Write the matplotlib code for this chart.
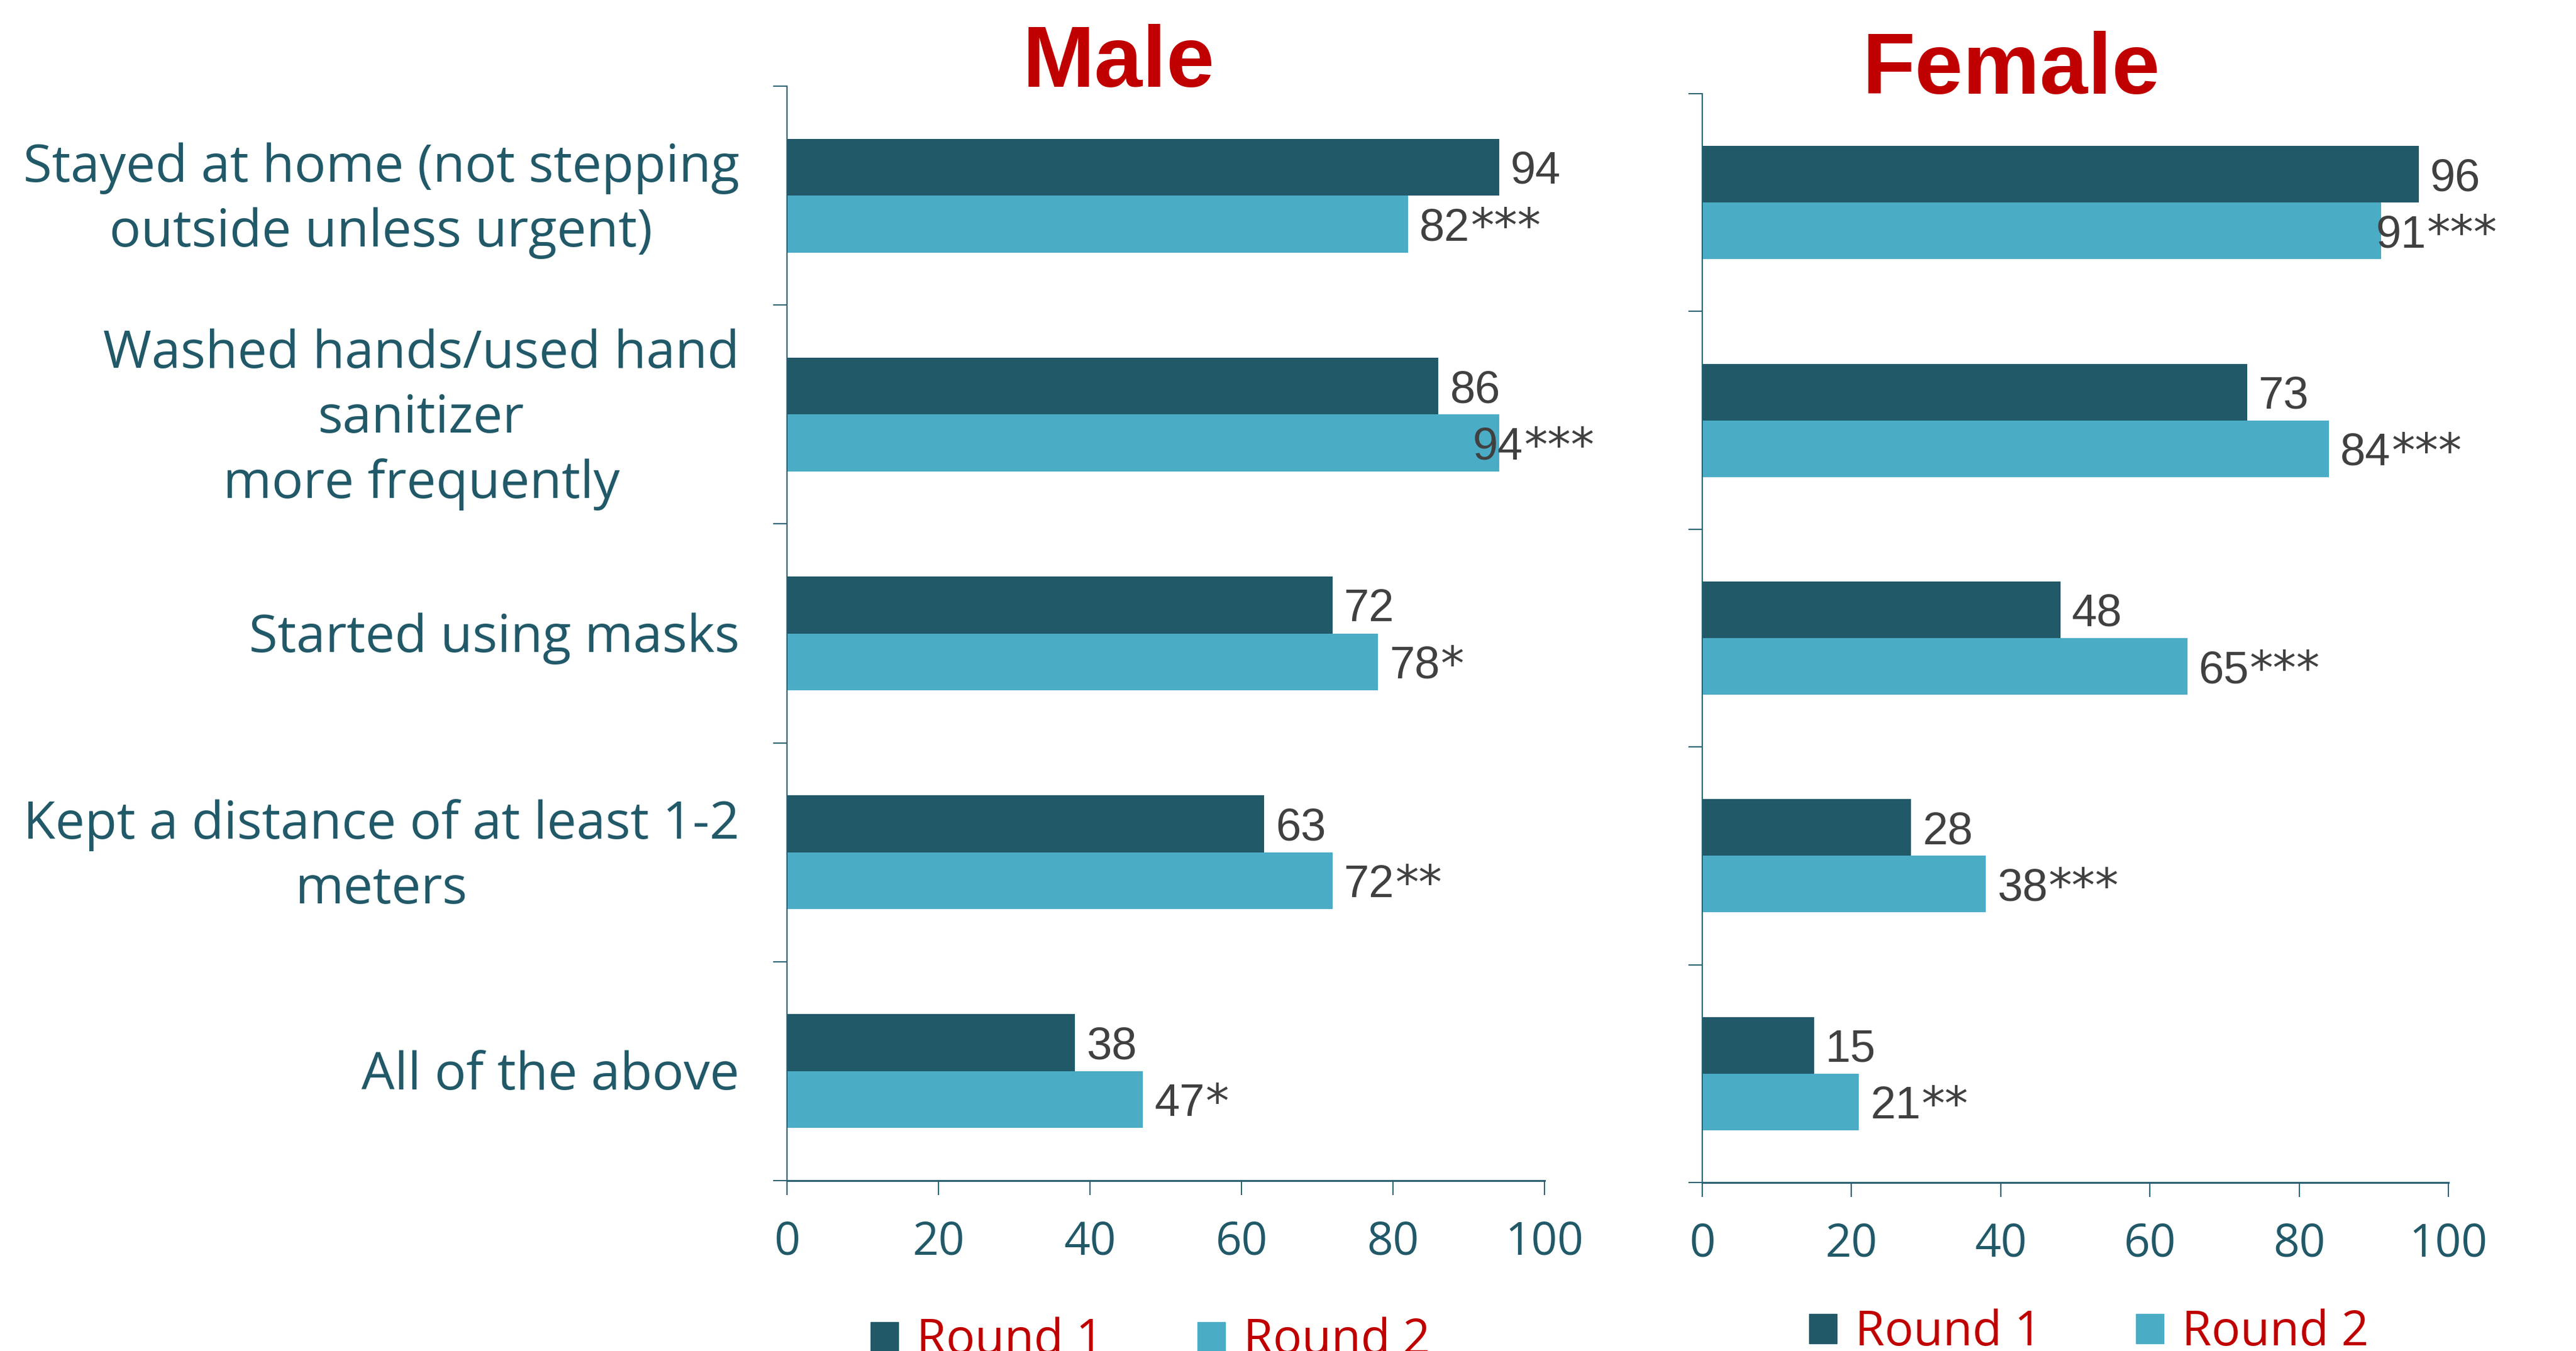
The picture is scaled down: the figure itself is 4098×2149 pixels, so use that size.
# Protective behaviours by gender, Round 1 vs Round 2
import matplotlib
matplotlib.use('Agg')
import matplotlib.pyplot as plt
import matplotlib.transforms as mtransforms
from matplotlib.patches import Patch

# Data
categories = ['Stayed at home (not stepping\noutside unless urgent)',
              'Washed hands/used hand\nsanitizer\nmore frequently',
              'Started using masks',
              'Kept a distance of at least 1-2\nmeters',
              'All of the above']
male_r1 = [94, 86, 72, 63, 38]
male_r2 = [82, 94, 78, 72, 47]
male_sig = ['***', '***', '*', '**', '*']
female_r1 = [96, 73, 48, 28, 15]
female_r2 = [91, 84, 65, 38, 21]
female_sig = ['***', '***', '***', '***', '**']
series_names = ['Round 1', 'Round 2']
x_ticks = [0, 20, 40, 60, 80, 100]

# Colours / fonts
c_r1 = '#215968'
c_r2 = '#4BACC6'
c_axis = '#2B6273'
c_red = '#C00000'
c_val = '#404040'
f_lab = ['Open Sans', 'DejaVu Sans']
f_val = ['Liberation Sans', 'DejaVu Sans']
f_star = ['DejaVu Sans']

W, H = 4098, 2149
fig = plt.figure(figsize=(W / 100, H / 100), dpi=100)

ax_m = fig.add_axes([1252 / W, 1 - 1878 / H, (2457 - 1252) / W, (1878 - 137) / H])
ax_f = fig.add_axes([2708 / W, 1 - 1881 / H, (3895 - 2708) / W, (1881 - 149) / H])

bh = 0.26
ypos = list(range(len(categories)))
label_texts = []

def value_label(ax, x, y, num, stars):
    t = ax.text(x, y, num, va='center_baseline', ha='left',
                fontsize=52, color=c_val, family=f_val)
    st = None
    if stars:
        # stars drawn right after the number, a bit larger like the original
        st = ax.annotate(stars, xy=(1, 0.5), xycoords=t, xytext=(1, 0),
                         textcoords='offset points', va='center', ha='left',
                         fontsize=54, color=c_val, family=f_star)
    label_texts.append((ax, t, st))

def draw_panel(ax, r1, r2, sig, show_labels):
    ax.barh([y - bh / 2 for y in ypos], r1, height=bh, color=c_r1)
    ax.barh([y + bh / 2 for y in ypos], r2, height=bh, color=c_r2)
    for y, v in zip(ypos, r1):
        value_label(ax, v + 1.5, y - bh / 2, str(v), '')
    for y, v, s in zip(ypos, r2, sig):
        value_label(ax, v + 1.5, y + bh / 2, str(v), s)

    ax.set_xlim(0, 100)
    ax.set_ylim(len(categories) - 0.5, -0.5)
    ax.set_xticks(x_ticks)
    ax.set_xticklabels([str(t) for t in x_ticks], fontsize=52.5, color=c_r1, family=f_lab)
    ax.set_yticks([y - 0.5 for y in ypos] + [len(categories) - 0.5])
    ax.set_yticklabels([])
    ax.tick_params(axis='x', length=16.5, width=1.4, color=c_axis, pad=28)
    ax.tick_params(axis='y', which='major', length=16, width=1.4, color=c_axis)
    if show_labels:
        # category names, right-aligned left of the axis, lines centred
        trans = mtransforms.blended_transform_factory(ax.transAxes, ax.transData)
        for y, name in zip(ypos, categories):
            ax.text(-0.063, y + 0.023, name, transform=trans, ha='right', va='center',
                    multialignment='center', linespacing=1.33,
                    fontsize=60, color=c_r1, family=f_lab)
    for sp in ['top', 'right']:
        ax.spines[sp].set_visible(False)
    ax.spines['left'].set_color(c_axis)
    ax.spines['left'].set_linewidth(1.4)
    ax.spines['bottom'].set_color(c_axis)
    ax.spines['bottom'].set_linewidth(2.2)

draw_panel(ax_m, male_r1, male_r2, male_sig, True)
draw_panel(ax_f, female_r1, female_r2, female_sig, False)

# Titles
fig.text(1780 / W, 1 - 138 / H, 'Male', ha='center', va='baseline', fontsize=99,
         fontweight='bold', color=c_red, family=f_val)
fig.text(3200 / W, 1 - 149 / H, 'Female', ha='center', va='baseline', fontsize=99,
         fontweight='bold', color=c_red, family=f_val)

# Legends (partly cut at the bottom like the original)
handles = [Patch(color=c_r1), Patch(color=c_r2)]
for cx, cy in [(1830, 2133), (3323, 2120)]:
    leg = fig.legend(handles, series_names, loc='center', bbox_to_anchor=(cx / W, 1 - cy / H),
                     ncol=2, frameon=False, prop={'family': f_lab, 'size': 55},
                     handlelength=0.58, handleheight=0.58, handletextpad=0.38,
                     columnspacing=1.95, borderpad=0, borderaxespad=0)
    for t in leg.get_texts():
        t.set_color(c_red)

# Keep long value labels from running past the panel: pull them back over the bar
fig.canvas.draw()
rend = fig.canvas.get_renderer()
for ax, t, st in label_texts:
    right = (st if st is not None else t).get_window_extent(renderer=rend).x1
    limit = ax.transData.transform((106.6, 0))[0]
    if right > limit:
        dx = (right - limit) / (ax.transData.transform((100, 0))[0] - ax.transData.transform((0, 0))[0]) * 100
        t.set_x(t.get_position()[0] - dx)
        t.set_clip_on(False)

fig.savefig('out.png', dpi=100)
